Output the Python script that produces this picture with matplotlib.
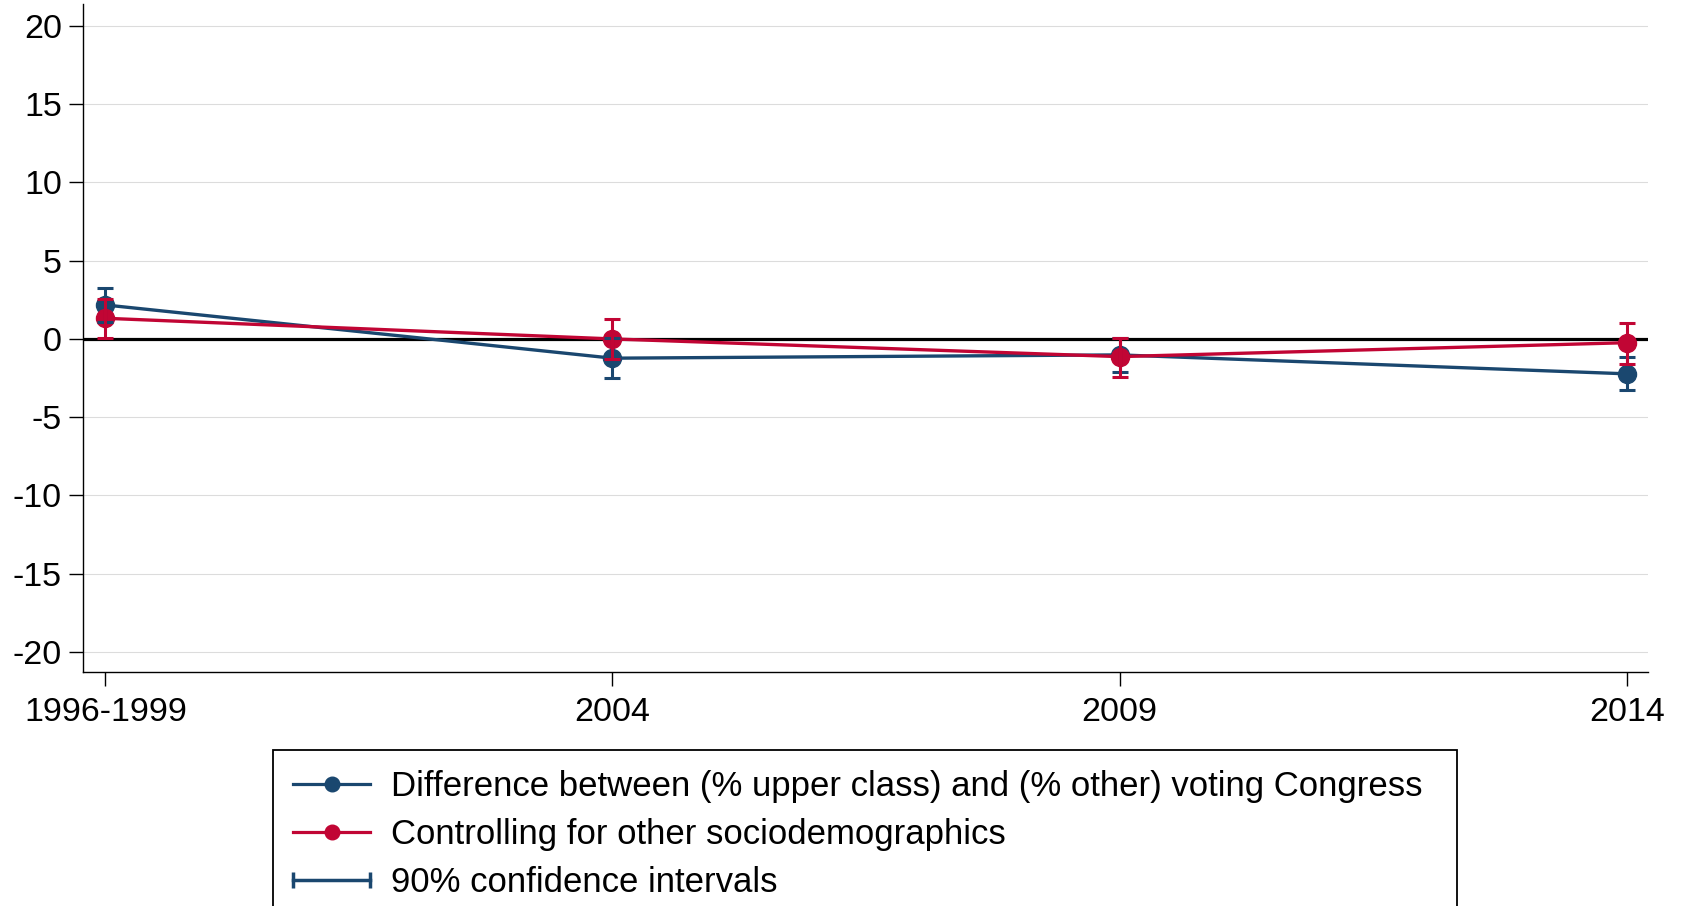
import matplotlib

matplotlib.use("Agg")
import matplotlib.pyplot as plt
from matplotlib.legend_handler import HandlerLine2D
from matplotlib.lines import Line2D

# Values
PERIODS = ["1996-1999", "2004", "2009", "2014"]
DIFF = [2.17, -1.23, -1.02, -2.23]
DIFF_LO = [1.07, -2.49, -2.09, -3.26]
DIFF_HI = [3.27, 0.03, 0.05, -1.17]
CTRL = [1.32, 0.0, -1.13, -0.24]
CTRL_LO = [0.08, -1.26, -2.44, -1.60]
CTRL_HI = [2.56, 1.26, 0.04, 1.04]
Y_TICKS = [-20, -15, -10, -5, 0, 5, 10, 15, 20]

LABELS = [
    "Difference between (% upper class) and (% other) voting Congress",
    "Controlling for other sociodemographics",
    "90% confidence intervals",
]

NAVY = "#1a476f"
RED = "#c10534"

plt.rcParams["font.family"] = ["Liberation Sans", "DejaVu Sans"]
plt.rcParams["axes.unicode_minus"] = False

W, H = 1686, 906
fig = plt.figure(figsize=(W / 100, H / 100), dpi=100)
ax = fig.add_axes([82.7 / W, 1 - 672.3 / H, (1648 - 82.7) / W, (672.3 - 4) / H])

x = list(range(len(PERIODS)))

ax.axhline(0, color="black", lw=2.3, zorder=2)

ax.plot(x, DIFF, color=NAVY, lw=2.4, marker="o", ms=13, zorder=3)
ax.plot(x, CTRL, color=RED, lw=2.4, marker="o", ms=13, zorder=3)

for mid, lo, hi, col in ((DIFF, DIFF_LO, DIFF_HI, NAVY), (CTRL, CTRL_LO, CTRL_HI, RED)):
    err = [[m - l for m, l in zip(mid, lo)], [h - m for m, h in zip(mid, hi)]]
    ax.errorbar(x, mid, yerr=err, fmt="none", ecolor=col, elinewidth=2.2,
                capsize=5.5, capthick=2.2, zorder=4)

ax.set_xlim(-0.0446, 3.042)
ax.set_ylim(-21.3, 21.4)
ax.set_xticks(x)
ax.set_xticklabels(PERIODS)
ax.set_yticks(Y_TICKS)
ax.set_yticklabels([str(t) for t in Y_TICKS])
ax.tick_params(axis="both", labelsize=24.5, length=10, width=1.0, direction="out")
ax.tick_params(axis="y", pad=5)
ax.tick_params(axis="x", pad=8)

ax.grid(axis="y", color="#dcdcdc", lw=0.8, zorder=0)
ax.set_axisbelow(True)
for side in ("top", "right"):
    ax.spines[side].set_visible(False)
for side in ("left", "bottom"):
    ax.spines[side].set_linewidth(1.0)

h_diff = Line2D([], [], color=NAVY, lw=2.3, marker="o", ms=10.5)
h_ctrl = Line2D([], [], color=RED, lw=2.3, marker="o", ms=10.5)
h_ci = Line2D([], [], color=NAVY, lw=2.5, marker="|", ms=11, mew=2.5)

leg = fig.legend(
    [h_diff, h_ctrl, h_ci], LABELS,
    loc="upper left",
    bbox_to_anchor=(273.3 / W, 1 - 750 / H, (1457.3 - 273.3) / W, 0),
    mode="expand", borderaxespad=0, fontsize=25, numpoints=1,
    handlelength=2.2, handletextpad=0.6, borderpad=0.58, labelspacing=0.43,
    fancybox=False, edgecolor="black", framealpha=1,
    handler_map={h_ci: HandlerLine2D(numpoints=2, marker_pad=0)},
)
leg.get_frame().set_linewidth(1.3)

fig.savefig("out.png", dpi=100)
